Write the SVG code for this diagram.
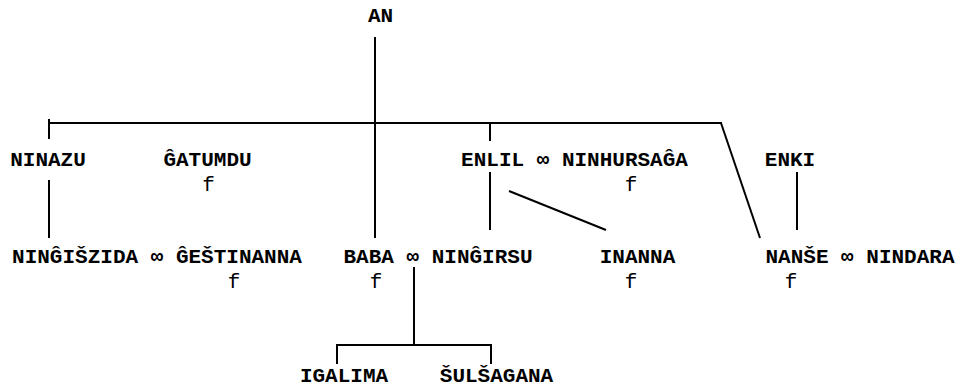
<svg xmlns="http://www.w3.org/2000/svg" width="958" height="387" viewBox="0 0 958 387">
<style>
text{font-family:"Liberation Mono","Courier New",monospace;font-size:21px;text-anchor:middle;fill:#000}
.n{font-weight:bold}
.f{font-weight:normal}
line{stroke:#000;stroke-width:2;fill:none}
</style>
<rect width="958" height="387" fill="#fff"/>
<g id="connectors">
<line x1="375" y1="37" x2="375" y2="238"/>
<line x1="49" y1="123" x2="722" y2="123"/>
<line x1="49" y1="119" x2="49" y2="139"/>
<line x1="49" y1="180" x2="49" y2="238"/>
<line x1="721" y1="123" x2="760" y2="238"/>
<line x1="490" y1="123" x2="490" y2="141"/>
<line x1="490" y1="172" x2="490" y2="230"/>
<line x1="509" y1="191" x2="606" y2="230"/>
<line x1="797" y1="172" x2="797" y2="230"/>
<line x1="414" y1="267" x2="414" y2="345"/>
<line x1="336" y1="345" x2="492" y2="345"/>
<line x1="337" y1="344" x2="337" y2="364"/>
<line x1="491" y1="344" x2="491" y2="364"/>
</g>
<g id="an"><text class="n" x="380.5" y="22">AN</text></g>
<g id="ninazu"><text class="n" x="48" y="166">NINAZU</text></g>
<g id="gatumdu"><text class="n" x="207.5" y="166">ĜATUMDU</text><text class="f" x="208.5" y="191">f</text></g>
<g id="enlil"><text class="n" x="574.5" y="166">ENLIL ∞ NINHURSAĜA</text><text class="f" x="631" y="191">f</text></g>
<g id="enki"><text class="n" x="790" y="166">ENKI</text></g>
<g id="ningiszida"><text class="n" x="157" y="263">NINĜIŠZIDA ∞ ĜEŠTINANNA</text><text class="f" x="234" y="288">f</text></g>
<g id="baba"><text class="n" x="438" y="263">BABA ∞ NINĜIRSU</text><text class="f" x="376" y="288">f</text></g>
<g id="inanna"><text class="n" x="637.5" y="263">INANNA</text><text class="f" x="631" y="288">f</text></g>
<g id="nanse"><text class="n" x="860" y="263">NANŠE ∞ NINDARA</text><text class="f" x="791" y="288">f</text></g>
<g id="igalima"><text class="n" x="344" y="382">IGALIMA</text></g>
<g id="sulsagana"><text class="n" x="496.5" y="382">ŠULŠAGANA</text></g>
</svg>
